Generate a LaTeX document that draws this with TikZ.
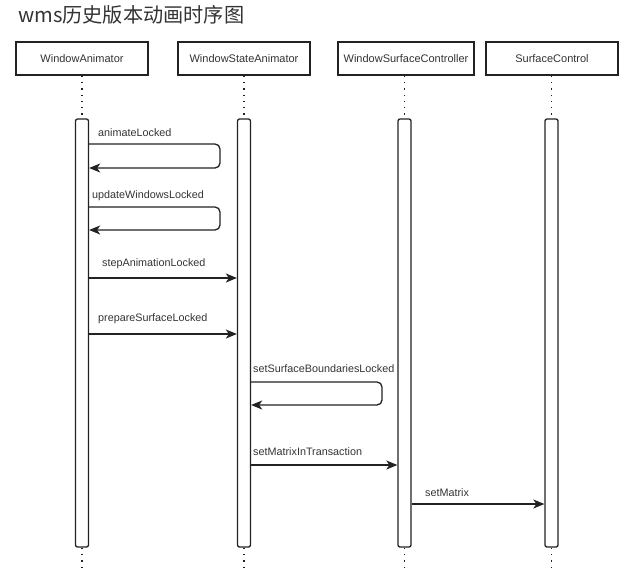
\documentclass[tikz,border=0pt]{standalone}
\usepackage{fontspec}
\setmainfont{Liberation Sans}
\newfontfamily\cjk{Noto Sans CJK SC}
\usetikzlibrary{arrows.meta}
\definecolor{ink}{HTML}{222222}
\definecolor{txt}{HTML}{333333}
\begin{document}
\begin{tikzpicture}[x=1pt,y=-1pt,
  actor/.style={draw=ink,line width=1.2pt,minimum width=132pt,minimum height=33pt,inner sep=0pt,font=\fontsize{11}{13}\selectfont,text=txt},
  bar/.style={draw=ink,line width=1.3pt,fill=white,minimum width=13pt,minimum height=428pt,inner sep=0pt,rounded corners=2pt},
  life/.style={draw=ink,line width=1.3pt,dash pattern=on 1.3pt off 5pt},
  msg/.style={draw=ink,line width=1.3pt,-{Stealth[length=11pt,width=9pt,inset=3pt]}},
  loop/.style={msg,rounded corners=5pt},
  lbl/.style={font=\fontsize{10.8}{13}\selectfont,text=txt,inner sep=0pt,anchor=west}]
\useasboundingbox (0,0) rectangle (640,573);
\node[anchor=west,inner sep=0pt,font=\cjk\fontsize{20.2}{24}\selectfont,text=txt] (title) at (18,15) {wms历史版本动画时序图};

\node[actor] (wa) at (82,58.5) {WindowAnimator};
\node[actor] (wsa) at (244,58.5) {WindowStateAnimator};
\node[actor,minimum width=136pt] (wsc) at (406,58.5) {WindowSurfaceController};
\node[actor] (sc) at (552,58.5) {SurfaceControl};

\coordinate (wae) at (82,573);
\coordinate (wsae) at (244,573);
\coordinate (wsce) at (404.5,573);
\coordinate (sce) at (551.5,573);

\node[bar] (b1) at (82,333) {};
\node[bar] (b2) at (244,333) {};
\node[bar] (b3) at (404.5,333) {};
\node[bar] (b4) at (551.5,333) {};

\draw[life] (wa.south) -- (b1.north);
\draw[life] (wsa.south) -- (b2.north);
\draw[life] (wsc.south-|b3.north) -- (b3.north);
\draw[life] (sc.south-|b4.north) -- (b4.north);
\draw[life] (b1.south) -- (wae);
\draw[life] (b2.south) -- (wsae);
\draw[life] (b3.south) -- (wsce);
\draw[life] (b4.south) -- (sce);

% animateLocked
\node[lbl] (l1) at (98,132.5) {animateLocked};
\draw[loop] (b1.east|-0,144) -- (220,144) -- (220,168) -- (b1.east|-0,168);
% updateWindowsLocked
\node[lbl] (l2) at (92,195.5) {updateWindowsLocked};
\draw[loop] (b1.east|-0,207) -- (220,207) -- (220,230) -- (b1.east|-0,230);
% stepAnimationLocked
\node[lbl] (l3) at (102,264) {stepAnimationLocked};
\draw[msg] (b1.east|-0,278) -- (b2.west|-0,278);
% prepareSurfaceLocked
\node[lbl] (l4) at (98,319) {prepareSurfaceLocked};
\draw[msg] (b1.east|-0,334) -- (b2.west|-0,334);
% setSurfaceBoundariesLocked
\node[lbl] (l5) at (253,369) {setSurfaceBoundariesLocked};
\draw[loop] (b2.east|-0,382) -- (382,382) -- (382,405) -- (b2.east|-0,405);
% setMatrixInTransaction
\node[lbl] (l6) at (253,451.5) {setMatrixInTransaction};
\draw[msg] (b2.east|-0,465) -- (b3.west|-0,465);
% setMatrix
\node[lbl] (l7) at (425,493) {setMatrix};
\draw[msg] (b3.east|-0,504) -- (b4.west|-0,504);
\end{tikzpicture}
\end{document}
